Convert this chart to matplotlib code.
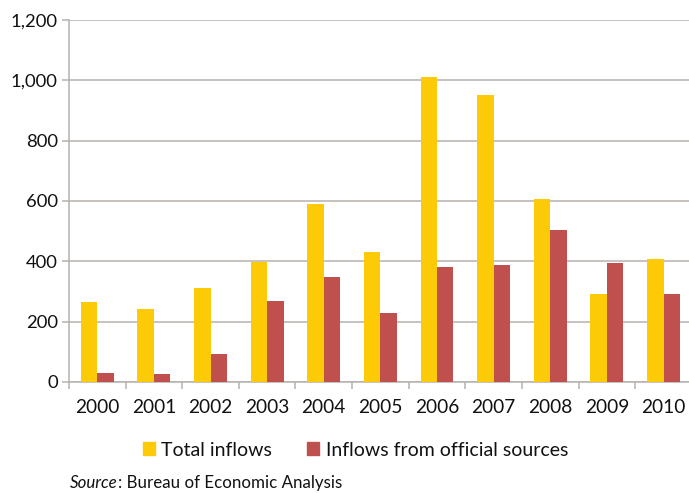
import matplotlib.pyplot as plt
import numpy as np
from matplotlib.patches import Patch

# data
years = ['2000', '2001', '2002', '2003', '2004', '2005', '2006', '2007', '2008', '2009', '2010']
total_inflows = [264, 243, 313, 398, 589, 431, 1010, 951, 605, 293, 407]
official_inflows = [31, 25, 94, 270, 349, 227, 381, 387, 503, 396, 293]

YELLOW = '#FDCA08'
RED = '#C0504D'
GRID = '#B5B1AE'
TXT = '#111111'

plt.rcParams['font.family'] = ['Lato', 'DejaVu Sans']

fig = plt.figure(figsize=(6.89, 4.93), dpi=100)
ax = fig.add_axes([0.1001, 0.2252, 0.904, 0.7343])

x = np.arange(len(years))
w = 0.29
ax.bar(x - w / 2, total_inflows, w, color=YELLOW, zorder=3)
ax.bar(x + w / 2, official_inflows, w, color=RED, zorder=3)

ax.set_xlim(-0.5, len(years) - 0.5)
ax.set_ylim(0, 1200)
ax.set_yticks(range(0, 1201, 200))
ax.set_yticklabels([f'{v:,}' for v in range(0, 1201, 200)])
ax.yaxis.grid(True, color=GRID, linewidth=1.1, zorder=0)

# category labels centered, ticks at boundaries
ax.set_xticks(x)
ax.set_xticklabels(years)
ax.set_xticks(np.arange(-0.5, len(years)), minor=True)
ax.tick_params(axis='x', which='major', length=0, pad=12, labelsize=13.8, colors=TXT)
ax.tick_params(axis='x', which='minor', length=5, width=1.1, color=GRID)
ax.tick_params(axis='y', length=5, width=1.1, color=GRID, pad=3, labelsize=13.3, labelcolor=TXT)

for s in ['top', 'right']:
    ax.spines[s].set_visible(False)
ax.spines['left'].set_color(GRID)
ax.spines['bottom'].set_color(GRID)
ax.spines['left'].set_linewidth(1.1)
ax.spines['bottom'].set_linewidth(1.1)

handles = [Patch(color=YELLOW, label='Total inflows'),
           Patch(color=RED, label='Inflows from official sources')]
fig.legend(handles=handles, loc='center', bbox_to_anchor=(0.516, 0.087), ncol=2,
           frameon=False, fontsize=14, handlelength=0.62, handleheight=0.62,
           handletextpad=0.35, columnspacing=1.8, labelcolor=TXT)

t = fig.text(70 / 689, 1 - 483 / 493, 'Source', style='italic', fontsize=12.2,
             va='center', ha='left', color=TXT)
ax.annotate(': Bureau of Economic Analysis', xy=(1, 0.5), xycoords=t,
            va='center', ha='left', fontsize=12.2, color=TXT)

fig.savefig('out.png', dpi=100)
